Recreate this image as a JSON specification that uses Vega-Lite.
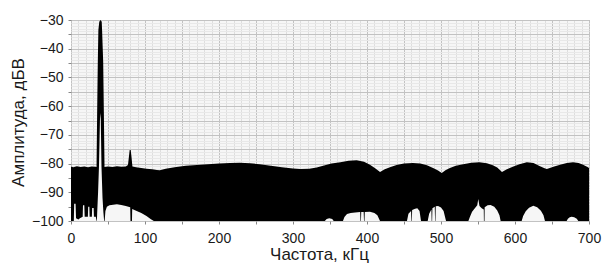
{
  "$schema": "https://vega.github.io/schema/vega-lite/v6.json",
  "width": 518,
  "height": 201,
  "autosize": {"type": "none"},
  "padding": {"left": 71, "top": 20, "right": 15, "bottom": 45},
  "background": "white",
  "config": {
    "view": {"fill": "#f6f6f6", "stroke": "#9a9a9a", "strokeWidth": 1},
    "axis": {
      "labelFont": "Liberation Sans",
      "titleFont": "Liberation Sans",
      "labelFontSize": 14,
      "titleFontSize": 17,
      "labelColor": "#1a1a1a",
      "titleColor": "#1a1a1a",
      "titleFontWeight": "normal",
      "domain": false,
      "tickSize": 3,
      "tickColor": "#888888",
      "labelOverlap": false,
      "labelFlush": false,
      "labelBound": false
    }
  },
  "datasets": {
    "top": [
      {"f": 0, "a": -81.0}, {"f": 3, "a": -81.3}, {"f": 8, "a": -80.9}, {"f": 13, "a": -81.2},
      {"f": 18, "a": -81.0}, {"f": 23, "a": -81.3}, {"f": 28, "a": -81.0}, {"f": 33, "a": -81.1},
      {"f": 34.5, "a": -81.2}, {"f": 35.3, "a": -63}, {"f": 36.2, "a": -45}, {"f": 37.0, "a": -33.5},
      {"f": 38.2, "a": -30.6}, {"f": 39.8, "a": -30.0}, {"f": 41.5, "a": -30.6}, {"f": 42.0, "a": -33.5},
      {"f": 43.5, "a": -44.6}, {"f": 44.4, "a": -62}, {"f": 45.3, "a": -81.2}, {"f": 50, "a": -81.0},
      {"f": 56, "a": -81.2}, {"f": 62, "a": -80.9}, {"f": 68, "a": -81.1}, {"f": 74, "a": -81.0},
      {"f": 77, "a": -80.5}, {"f": 78.3, "a": -77.5}, {"f": 79.3, "a": -75.3}, {"f": 80.7, "a": -75.3},
      {"f": 81.7, "a": -77.5}, {"f": 83, "a": -81.0}, {"f": 88, "a": -81.3}, {"f": 95, "a": -81.5},
      {"f": 102, "a": -81.8}, {"f": 110, "a": -82.0}, {"f": 116, "a": -82.2}, {"f": 120, "a": -82.3},
      {"f": 128, "a": -81.8}, {"f": 140, "a": -81.3}, {"f": 155, "a": -80.8}, {"f": 170, "a": -80.5},
      {"f": 185, "a": -80.2}, {"f": 200, "a": -80.0}, {"f": 215, "a": -79.8}, {"f": 228, "a": -79.7},
      {"f": 242, "a": -79.9}, {"f": 255, "a": -80.2}, {"f": 270, "a": -80.8}, {"f": 285, "a": -81.3},
      {"f": 300, "a": -81.7}, {"f": 310, "a": -81.9}, {"f": 322, "a": -81.8}, {"f": 332, "a": -81.4},
      {"f": 342, "a": -80.7}, {"f": 352, "a": -80.0}, {"f": 364, "a": -79.5}, {"f": 375, "a": -79.0},
      {"f": 386, "a": -78.8}, {"f": 396, "a": -79.4}, {"f": 404, "a": -80.4}, {"f": 411, "a": -81.6},
      {"f": 417.6, "a": -82.9}, {"f": 424, "a": -82.0}, {"f": 431, "a": -81.3}, {"f": 440, "a": -80.5},
      {"f": 450, "a": -80.0}, {"f": 462, "a": -79.8}, {"f": 472, "a": -80.0}, {"f": 481, "a": -80.6},
      {"f": 490, "a": -81.6}, {"f": 496, "a": -82.4}, {"f": 501, "a": -83.3}, {"f": 506, "a": -82.3},
      {"f": 512, "a": -81.5}, {"f": 520, "a": -80.8}, {"f": 530, "a": -80.2}, {"f": 541, "a": -79.7},
      {"f": 552, "a": -79.5}, {"f": 562, "a": -79.9}, {"f": 570, "a": -80.6}, {"f": 576, "a": -81.4},
      {"f": 582.4, "a": -82.9}, {"f": 589, "a": -82.0}, {"f": 597, "a": -81.1}, {"f": 606, "a": -80.2},
      {"f": 616, "a": -79.5}, {"f": 625, "a": -79.8}, {"f": 633.8, "a": -80.9}, {"f": 640, "a": -81.6},
      {"f": 643, "a": -81.9}, {"f": 647, "a": -81.5}, {"f": 653, "a": -81.0}, {"f": 661, "a": -80.4},
      {"f": 670, "a": -79.8}, {"f": 678.4, "a": -79.5}, {"f": 686, "a": -79.8}, {"f": 692, "a": -80.4},
      {"f": 698.6, "a": -81.3}, {"f": 700, "a": -81.5}
    ],
    "holes": [
      {"f": 0, "a": -100}, {"f": 3.8, "a": -100}, {"f": 4.3, "a": -94}, {"f": 6.2, "a": -94},
      {"f": 6.8, "a": -99}, {"f": 10, "a": -99.5}, {"f": 12, "a": -99}, {"f": 15.8, "a": -98.5},
      {"f": 16.2, "a": -94.5}, {"f": 18.0, "a": -94.5}, {"f": 18.5, "a": -98.5}, {"f": 22.8, "a": -98.5},
      {"f": 23.2, "a": -95}, {"f": 24.8, "a": -95}, {"f": 25.2, "a": -98.5}, {"f": 28.2, "a": -98.5},
      {"f": 28.6, "a": -95.5}, {"f": 30.6, "a": -95.5}, {"f": 31, "a": -98.5}, {"f": 33.5, "a": -98.5},
      {"f": 34.6, "a": -100}, {"f": 35.0, "a": -100}, {"f": 35.4, "a": -97}, {"f": 36.6, "a": -90},
      {"f": 37.8, "a": -81}, {"f": 39.1, "a": -65}, {"f": 39.7, "a": -62.4}, {"f": 40.2, "a": -64},
      {"f": 41.2, "a": -81}, {"f": 42.6, "a": -92}, {"f": 43.8, "a": -97}, {"f": 44.8, "a": -100},
      {"f": 45.5, "a": -100}, {"f": 46.5, "a": -96.5}, {"f": 48.5, "a": -95}, {"f": 52, "a": -94.5},
      {"f": 57, "a": -94.3}, {"f": 62, "a": -94.2}, {"f": 68, "a": -94.4}, {"f": 74, "a": -94.8},
      {"f": 80.0, "a": -95.2}, {"f": 80.4, "a": -100}, {"f": 82.4, "a": -100}, {"f": 82.7, "a": -95.8},
      {"f": 88, "a": -96.4}, {"f": 95, "a": -97.2}, {"f": 102, "a": -98.3}, {"f": 108, "a": -99.4},
      {"f": 112, "a": -100}, {"f": 343, "a": -100}, {"f": 345.5, "a": -99.3}, {"f": 349, "a": -99.0},
      {"f": 353, "a": -99.3}, {"f": 355, "a": -100}, {"f": 367.5, "a": -100}, {"f": 369.5, "a": -98.6},
      {"f": 373, "a": -97.6}, {"f": 378, "a": -97.2}, {"f": 384, "a": -97.0}, {"f": 390.8, "a": -96.9},
      {"f": 391.2, "a": -100}, {"f": 391.8, "a": -100}, {"f": 392.2, "a": -96.9}, {"f": 395.5, "a": -96.9},
      {"f": 396, "a": -100}, {"f": 396.6, "a": -100}, {"f": 397, "a": -96.9}, {"f": 404, "a": -96.8},
      {"f": 410, "a": -97.2}, {"f": 414, "a": -98.0}, {"f": 417.6, "a": -100}, {"f": 454, "a": -100},
      {"f": 456, "a": -97.5}, {"f": 459.6, "a": -96.5}, {"f": 460, "a": -100}, {"f": 460.6, "a": -100},
      {"f": 461, "a": -96.2}, {"f": 465, "a": -95.7}, {"f": 468, "a": -95.6}, {"f": 471, "a": -96.5},
      {"f": 473, "a": -100}, {"f": 482, "a": -100}, {"f": 484, "a": -97.5}, {"f": 487, "a": -96.0},
      {"f": 487.4, "a": -100}, {"f": 488, "a": -100}, {"f": 488.4, "a": -95.6}, {"f": 491.6, "a": -95.0},
      {"f": 492, "a": -100}, {"f": 492.5, "a": -100}, {"f": 492.9, "a": -94.9}, {"f": 496, "a": -94.8},
      {"f": 500, "a": -95.3}, {"f": 503.5, "a": -96.5}, {"f": 506.8, "a": -100}, {"f": 537, "a": -100},
      {"f": 539, "a": -98.6}, {"f": 542, "a": -96.8}, {"f": 546, "a": -95.5}, {"f": 549, "a": -94.5},
      {"f": 550.4, "a": -92.3}, {"f": 552, "a": -94.8}, {"f": 555, "a": -95.6}, {"f": 557.8, "a": -96},
      {"f": 558, "a": -100}, {"f": 558.8, "a": -100}, {"f": 559, "a": -95.2}, {"f": 563, "a": -94.5},
      {"f": 567, "a": -94.4}, {"f": 572, "a": -95.0}, {"f": 576, "a": -96.3}, {"f": 579, "a": -98.0},
      {"f": 580.6, "a": -100}, {"f": 609, "a": -100}, {"f": 611, "a": -98.3}, {"f": 614.5, "a": -96.6},
      {"f": 619, "a": -95.4}, {"f": 624.7, "a": -94.7}, {"f": 630, "a": -95.2}, {"f": 635, "a": -96.4},
      {"f": 638.5, "a": -98.0}, {"f": 640.5, "a": -100}, {"f": 669.8, "a": -100}, {"f": 671.5, "a": -99.2},
      {"f": 674, "a": -98.7}, {"f": 676.6, "a": -98.5}, {"f": 680, "a": -98.7}, {"f": 683.5, "a": -99.2},
      {"f": 685.5, "a": -100}, {"f": 700, "a": -100}
    ]
  },
  "resolve": {"axis": {"x": "independent", "y": "independent"}},
  "layer": [
    {
      "data": {"name": "top"},
      "mark": {"type": "area", "opacity": 0},
      "encoding": {
        "x": {
          "field": "f",
          "type": "quantitative",
          "scale": {"domain": [0, 700], "nice": false, "zero": false},
          "axis": {
            "orient": "bottom",
            "title": null,
            "values": [10,20,30,40,60,70,80,90,110,120,130,140,160,170,180,190,210,220,230,240,260,270,280,290,310,320,330,340,360,370,380,390,410,420,430,440,460,470,480,490,510,520,530,540,560,570,580,590,610,620,630,640,660,670,680,690],
            "grid": true,
            "gridColor": "#dedede",
            "ticks": false,
            "labels": false
          }
        },
        "y": {
          "field": "a",
          "type": "quantitative",
          "scale": {"domain": [-100, -30], "nice": false, "zero": false},
          "axis": {
            "orient": "left",
            "title": null,
            "values": [-99,-98,-97,-96,-94,-93,-92,-91,-89,-88,-87,-86,-84,-83,-82,-81,-79,-78,-77,-76,-74,-73,-72,-71,-69,-68,-67,-66,-64,-63,-62,-61,-59,-58,-57,-56,-54,-53,-52,-51,-49,-48,-47,-46,-44,-43,-42,-41,-39,-38,-37,-36,-34,-33,-32,-31],
            "grid": true,
            "gridColor": "#e8e8e8",
            "ticks": false,
            "labels": false
          }
        }
      }
    },
    {
      "data": {"name": "top"},
      "mark": {"type": "area", "opacity": 0},
      "encoding": {
        "x": {
          "field": "f",
          "type": "quantitative",
          "axis": {
            "orient": "bottom",
            "title": null,
            "values": [0,50,100,150,200,250,300,350,400,450,500,550,600,650,700],
            "grid": true,
            "gridColor": "#c2c2c2",
            "ticks": true,
            "labels": false
          }
        },
        "y": {
          "field": "a",
          "type": "quantitative",
          "axis": {
            "orient": "left",
            "title": null,
            "values": [-100,-95,-90,-85,-80,-75,-70,-65,-60,-55,-50,-45,-40,-35,-30],
            "grid": true,
            "gridColor": "#c2c2c2",
            "ticks": true,
            "labels": false
          }
        }
      }
    },
    {
      "data": {"name": "top"},
      "mark": {"type": "area", "color": "#000000", "clip": true},
      "encoding": {
        "x": {
          "field": "f",
          "type": "quantitative",
          "axis": {
            "orient": "bottom",
            "title": "Частота, кГц",
            "values": [0,100,200,300,400,500,600,700],
            "grid": false,
            "ticks": false,
            "labelFlush": false,
            "labelPadding": 10,
            "titleX": 248,
            "titleY": 33,
            "titleAnchor": null,
            "titleAlign": "center",
            "titleBaseline": "middle"
          }
        },
        "y": {
          "field": "a",
          "type": "quantitative",
          "axis": {
            "orient": "left",
            "title": "Амплитуда, дБВ",
            "values": [-100,-90,-80,-70,-60,-50,-40,-30],
            "grid": false,
            "ticks": false,
            "labelFlush": false,
            "labelPadding": 8,
            "titleX": -53,
            "titleY": 102,
            "titleAnchor": null,
            "titleAlign": "center",
            "titleBaseline": "middle"
          }
        },
        "y2": {"datum": -100}
      }
    },
    {
      "data": {"name": "holes"},
      "mark": {"type": "area", "color": "#f6f6f6", "clip": true},
      "encoding": {
        "x": {"field": "f", "type": "quantitative", "axis": null},
        "y": {"field": "a", "type": "quantitative", "axis": null},
        "y2": {"datum": -100}
      }
    }
  ]
}
